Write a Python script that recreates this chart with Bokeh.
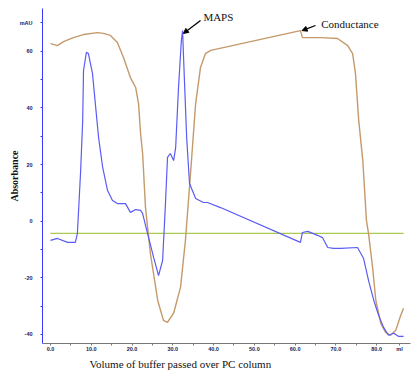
import numpy as np
from bokeh.plotting import figure
from bokeh.models import Range1d, FixedTicker, Arrow, NormalHead, Label, Title
from bokeh.embed import file_html
from bokeh.resources import INLINE

# UV absorbance trace (mAU) vs volume (ml)
uv_volume = [0.0, 1.7, 4.2, 6.1, 6.6, 7.4, 7.9, 8.1, 8.8, 9.3, 10.3, 11.0, 11.8, 12.8,
             14.0, 15.2, 16.4, 18.4, 19.6, 20.9, 22.1, 22.6, 23.8, 25.3, 26.5, 27.5,
             28.2, 28.7, 29.4, 30.2, 30.7, 31.4, 32.1, 32.4, 32.6, 33.4, 34.1, 35.6,
             37.5, 38.5, 41.7, 61.3, 61.8, 63.1, 65.5, 66.7, 68.0, 69.4, 71.2, 75.3,
             76.8, 78.0, 79.3, 80.5, 81.7, 82.9, 84.2, 85.4, 86.6]
uv_abs = [-6.8, -6.1, -7.5, -7.5, -4.3, 17.9, 35.6, 53.2, 59.6, 59.2, 52.2, 41.5, 29.5, 19.0,
          10.8, 7.3, 6.2, 6.2, 3.1, 4.1, 3.8, 2.7, -4.3, -12.8, -19.2, -13.9,
          6.2, 22.5, 23.9, 21.4, 26.0, 47.2, 63.8, 67.3, 59.2, 29.5, 13.3, 8.0,
          6.6, 6.6, 4.8, -7.5, -4.0, -3.6, -5.0, -5.8, -9.3, -9.6, -9.6, -9.3,
          -13.2, -20.9, -28.0, -33.3, -37.5, -40.3, -39.6, -40.7, -40.7]

# Conductance trace (plotted on the same scale)
cond_volume = [0.0, 1.7, 3.2, 5.6, 8.1, 11.5, 13.0, 14.7, 16.4, 17.9, 19.6, 20.9, 21.6,
               22.1, 22.6, 23.3, 24.5, 26.3, 27.7, 28.7, 30.2, 31.9, 33.1, 34.4, 35.6,
               36.8, 38.0, 39.3, 61.3, 61.8, 66.3, 70.4, 72.9, 74.1, 74.8, 75.6, 76.6,
               77.5, 78.0, 79.0, 79.8, 81.0, 82.2, 83.4, 84.7, 85.9, 86.6]
cond_value = [62.7, 62.0, 63.4, 64.8, 65.9, 66.6, 66.3, 65.6, 63.1, 57.8, 50.7, 47.2, 41.5,
              30.9, 23.9, 4.8, -11.4, -28.0, -35.0, -35.7, -32.5, -23.3, -6.8, 17.9, 41.5,
              54.3, 59.2, 60.3, 67.3, 64.8, 64.8, 64.5, 62.0, 59.2, 52.2, 35.6, 21.4,
              0.2, -4.3, -16.3, -28.0, -36.1, -39.3, -40.3, -38.5, -33.2, -30.8]

# Baseline
baseline_volume = [0.0, 86.6]
baseline_value = [-4.3, -4.3]

# Ticks
x_ticks = [0, 10, 20, 30, 40, 50, 60, 70, 80, 85.6]
x_tick_labels = ["0.0", "10.0", "20.0", "30.0", "40.0", "50.0", "60.0", "70.0", "80.0", "ml"]
x_minor = [5, 15, 25, 35, 45, 55, 65, 75]
y_ticks = [-40, -20, 0, 20, 40, 60, 70]
y_tick_labels = ["-40", "-20", "0", "20", "40", "60", "mAU"]
y_minor = [-30, -10, 10, 30, 50]

SERIF = "Liberation Serif"

p = figure(width=411, height=377, output_backend="svg", toolbar_location=None,
           x_range=Range1d(-1.96, 88.3), y_range=Range1d(-43.2, 75.1),
           min_border_left=42, min_border_right=1, min_border_top=8, min_border_bottom=34,
           background_fill_color="white", border_fill_color="white")
p.outline_line_color = None
p.grid.visible = False

p.line(baseline_volume, baseline_value, line_color="#a9c94f", line_width=1.2)
p.line(cond_volume, cond_value, line_color="#c49a6c", line_width=1.4)
p.line(uv_volume, uv_abs, line_color="#5b5bf5", line_width=1.2)

# X axis
xa = p.xaxis[0]
xa.ticker = FixedTicker(ticks=x_ticks, minor_ticks=x_minor)
xa.major_label_overrides = {t: l for t, l in zip(x_ticks, x_tick_labels)}
xa.axis_line_color = "#777777"
xa.major_tick_line_color = "#777777"
xa.minor_tick_line_color = "#777777"
xa.major_tick_out = 2
xa.major_tick_in = 0
xa.minor_tick_out = 2
xa.minor_tick_in = 0
xa.major_label_text_font = "Liberation Sans"
xa.major_label_text_font_style = "bold"
xa.major_label_text_font_size = "5.5px"
xa.major_label_text_color = "#1a1a4a"
xa.major_label_standoff = 0

# Y axis
ya = p.yaxis[0]
ya.ticker = FixedTicker(ticks=y_ticks, minor_ticks=y_minor)
ya.major_label_overrides = {t: l for t, l in zip(y_ticks, y_tick_labels)}
ya.axis_line_color = "#3a3aff"
ya.major_tick_line_color = "#3a3aff"
ya.minor_tick_line_color = "#3a3aff"
ya.major_tick_out = 2
ya.major_tick_in = 0
ya.minor_tick_out = 2
ya.minor_tick_in = 0
ya.major_label_text_font = "Liberation Sans"
ya.major_label_text_font_style = "bold"
ya.major_label_text_font_size = "5.5px"
ya.major_label_text_color = "#1a1a6a"
ya.major_label_standoff = 8
ya.axis_label = "Absorbance"
ya.axis_label_text_font = SERIF
ya.axis_label_text_font_style = "bold"
ya.axis_label_text_font_size = "10px"
ya.axis_label_text_color = "#111111"
ya.axis_label_standoff = -3

# X axis title, left of centre as in the original
p.add_layout(Title(text="Volume of buffer passed over PC column", align="left", offset=47,
                   text_font=SERIF, text_font_size="11px", text_font_style="normal",
                   text_color="#111111", standoff=2), "below")

# Annotations, positioned relative to the data features
i_maps = int(np.argmax(uv_abs))
mx, my = uv_volume[i_maps], uv_abs[i_maps]
i_cond = int(np.argmax(cond_value))
cx, cy = cond_volume[i_cond], cond_value[i_cond]

p.add_layout(Arrow(x_start=mx + 4.4, y_start=my + 3.6, x_end=mx + 0.2, y_end=my - 1.0,
                   line_color="black", line_width=1.3,
                   end=NormalHead(size=5, fill_color="black", line_color="black")))
p.add_layout(Label(x=mx + 5.1, y=my + 4.9, text="MAPS", text_font=SERIF,
                   text_font_size="11px", text_baseline="middle", text_color="#111111"))

p.add_layout(Arrow(x_start=cx + 3.7, y_start=cy + 1.8, x_end=cx + 0.4, y_end=cy,
                   line_color="black", line_width=1.3,
                   end=NormalHead(size=5, fill_color="black", line_color="black")))
p.add_layout(Label(x=cx + 5.1, y=cy + 2.5, text="Conductance", text_font=SERIF,
                   text_font_size="11px", text_baseline="middle", text_color="#111111"))

open("out.html", "w").write(file_html(p, INLINE))
